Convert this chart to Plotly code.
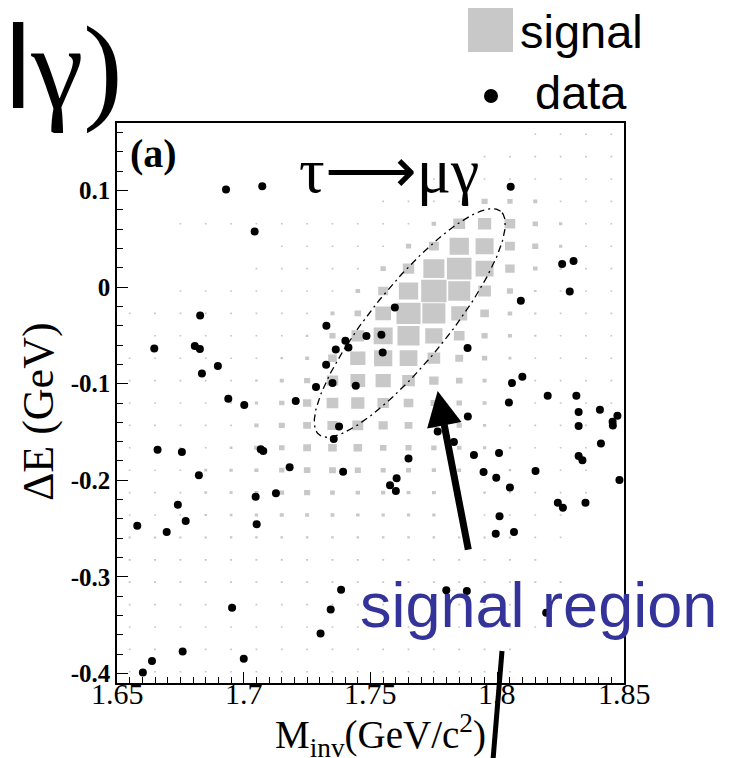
import numpy as np
import plotly.graph_objects as go

# ---- binning of the signal MC histogram (M_inv vs Delta E) ----
M_MIN, M_MAX, M_BINS = 1.65, 1.85, 20
E_MIN, E_MAX, E_BINS = -0.41, 0.17, 25

# relative box size (percent of the bin) for each cell; rows from top (highest dE) to bottom
SIGNAL_BOX = [
    [0, 0, 0, 0, 0, 0, 0, 0, 0, 0, 0, 0, 0, 0, 0, 0, 7, 7, 7, 7],
    [0, 0, 0, 0, 0, 0, 0, 0, 0, 0, 0, 0, 0, 0, 7, 7, 7, 7, 7, 7],
    [0, 0, 0, 0, 0, 0, 0, 0, 0, 0, 0, 0, 7, 7, 7, 7, 7, 7, 7, 7],
    [0, 0, 0, 0, 0, 0, 0, 0, 0, 0, 7, 7, 7, 7, 24, 21, 16, 7, 7, 7],
    [0, 0, 7, 7, 7, 7, 7, 7, 7, 7, 7, 7, 18, 47, 52, 42, 21, 13, 7, 7],
    [0, 0, 0, 0, 0, 0, 7, 7, 7, 7, 7, 21, 39, 76, 71, 39, 24, 13, 7, 7],
    [0, 0, 0, 0, 0, 7, 7, 7, 7, 7, 21, 45, 83, 97, 71, 37, 18, 10, 7, 7],
    [0, 0, 7, 7, 7, 7, 7, 7, 7, 18, 39, 76, 100, 87, 50, 24, 10, 7, 7, 7],
    [7, 7, 7, 7, 7, 7, 7, 7, 16, 26, 62, 95, 91, 63, 34, 18, 9, 7, 7, 7],
    [0, 7, 7, 7, 7, 7, 7, 10, 24, 50, 75, 87, 68, 42, 24, 16, 9, 7, 7, 7],
    [7, 7, 7, 7, 7, 7, 10, 16, 34, 60, 72, 70, 50, 31, 21, 12, 7, 7, 7, 7],
    [7, 7, 7, 7, 7, 10, 16, 24, 45, 58, 60, 50, 37, 26, 16, 10, 7, 7, 7, 7],
    [7, 7, 7, 7, 7, 13, 21, 33, 46, 52, 45, 38, 26, 22, 16, 9, 7, 7, 7, 7],
    [7, 7, 7, 7, 7, 17, 24, 31, 40, 43, 36, 31, 24, 21, 13, 9, 7, 7, 7, 0],
    [7, 7, 7, 7, 11, 18, 22, 31, 34, 34, 26, 24, 21, 18, 13, 9, 7, 7, 7, 0],
    [7, 7, 7, 12, 13, 16, 21, 26, 27, 24, 20, 20, 17, 15, 13, 10, 7, 7, 7, 0],
    [7, 7, 7, 11, 12, 15, 19, 24, 19, 17, 17, 15, 15, 13, 10, 7, 7, 7, 7, 0],
    [7, 7, 7, 10, 11, 13, 16, 16, 15, 14, 13, 13, 13, 10, 7, 7, 7, 7, 0, 0],
    [9, 9, 9, 9, 10, 10, 10, 10, 10, 10, 10, 10, 10, 9, 9, 9, 7, 7, 0, 0],
    [8, 8, 8, 8, 8, 8, 8, 8, 8, 8, 8, 8, 8, 8, 8, 8, 8, 0, 0, 0],
    [8, 8, 8, 8, 8, 8, 8, 8, 8, 8, 8, 8, 8, 8, 8, 8, 8, 8, 0, 0],
    [7, 7, 7, 7, 7, 7, 7, 7, 7, 7, 7, 7, 7, 7, 7, 7, 0, 0, 0, 0],
    [7, 7, 7, 7, 7, 7, 7, 7, 7, 7, 7, 7, 7, 7, 7, 7, 7, 0, 0, 0],
    [7, 7, 7, 7, 7, 7, 7, 7, 7, 7, 7, 7, 7, 7, 7, 7, 0, 0, 0, 0],
    [7, 7, 7, 7, 7, 7, 7, 7, 7, 7, 7, 7, 7, 7, 7, 7, 0, 0, 0, 0],
]

# observed events
DATA_MINV = [
    1.6930, 1.7073, 1.7043, 1.6828, 1.6647, 1.6807, 1.6827, 1.6898, 1.6835, 1.7326,
    1.7363, 1.7401, 1.7413, 1.7484, 1.7325, 1.7285, 1.7350, 1.7442, 1.6939, 1.7205,
    1.7596, 1.7543, 1.7548, 1.7883, 1.8093, 1.8099, 1.8058, 1.8046, 1.8053, 1.8256,
    1.8301, 1.8286, 1.8199, 1.8312, 1.8321, 1.8405, 1.8474, 1.8455, 1.8456, 1.8321,
    1.7884, 1.7765, 1.7829, 1.8409, 1.7650, 1.7908, 1.8007, 1.8321, 1.8336, 1.7946,
    1.7996, 1.8151, 1.8482, 1.7603, 1.7577, 1.7600, 1.8050, 1.8239, 1.8259, 1.8348,
    1.8009, 1.7994, 1.8066, 1.7799, 1.7880, 1.8193, 1.7002, 1.7376, 1.7355, 1.7067,
    1.7077, 1.7181, 1.7392, 1.7047, 1.7127, 1.7051, 1.6660, 1.6756, 1.6823, 1.6740,
    1.6771, 1.6580, 1.6696, 1.7384, 1.7343, 1.6954, 1.7303, 1.6759, 1.6638, 1.7000,
    1.6602,
]
DATA_DE = [
    0.1010, 0.1045, 0.0575, -0.0293, -0.0635, -0.0610, -0.0641, -0.0818, -0.0894, -0.0400,
    -0.0646, -0.0556, -0.0625, -0.0507, -0.0804, -0.1033, -0.0994, -0.1022, -0.1157, -0.1178,
    -0.0210, -0.0493, -0.0677, -0.0631, -0.0141, -0.0929, -0.0994, -0.1195, 0.1041, 0.0240,
    0.0271, -0.0044, -0.1126, -0.1126, -0.1292, -0.1271, -0.1333, -0.1395, -0.1434, -0.1437,
    -0.1340, -0.1496, -0.1603, -0.1620, -0.1776, -0.1738, -0.1717, -0.1748, -0.1793, -0.1914,
    -0.1973, -0.1904, -0.1997, -0.1979, -0.2052, -0.2111, -0.2076, -0.2232, -0.2284, -0.2232,
    -0.2373, -0.2553, -0.2536, -0.3140, -0.3148, -0.3372, -0.1222, -0.1444, -0.1574, -0.1678,
    -0.1696, -0.1865, -0.1911, -0.2170, -0.2135, -0.2456, -0.1683, -0.1707, -0.1948, -0.2253,
    -0.2422, -0.2471, -0.2536, -0.3134, -0.3338, -0.3321, -0.3587, -0.3773, -0.3871, -0.3850,
    -0.3991,
]

X_TICKS = [1.65, 1.7, 1.75, 1.8, 1.85]
X_TICK_TEXT = ["1.65", "1.7", "1.75", "1.8", "1.85"]
Y_TICKS = [-0.4, -0.3, -0.2, -0.1, 0.0, 0.1]
Y_TICK_TEXT = ["-0.4", "-0.3", "-0.2", "-0.1", "0", "0.1"]

# signal region ellipse: centre, semi-axes (fractions of the axis spans), tilt on screen
ELL_CENTER = (1.7655, -0.0371)
ELL_A, ELL_B, ELL_TILT_DEG = 0.284, 0.075, 50.9

BOX_GREY = "#c8c8c8"
SERIF = "Liberation Serif"
SANS = "Liberation Sans"

W, H = 737, 758
ML, MR, MT, MB = 117, 113, 123, 75
PW, PH = W - ML - MR, H - MT - MB


def px(xp):
    return (xp - ML) / PW


def py(yp):
    return (H - MB - yp) / PH


def label(x, y, text, font, **kw):
    d = dict(x=px(x), y=py(y), xref="paper", yref="paper", showarrow=False,
             xanchor="center", yanchor="middle", text=text, font=font)
    d.update(kw)
    return d


# ---- signal boxes as one filled polygon trace ----
dx = (M_MAX - M_MIN) / M_BINS
dy = (E_MAX - E_MIN) / E_BINS
bx, by = [], []
for r, row in enumerate(SIGNAL_BOX):
    j = E_BINS - 1 - r
    yc = E_MIN + (j + 0.5) * dy
    for i, s in enumerate(row):
        if s <= 0:
            continue
        xc = M_MIN + (i + 0.5) * dx
        hx, hy = 0.5 * dx * s / 100.0, 0.5 * dy * s / 100.0
        bx += [xc - hx, xc + hx, xc + hx, xc - hx, xc - hx, None]
        by += [yc - hy, yc - hy, yc + hy, yc + hy, yc - hy, None]

fig = go.Figure()
fig.add_trace(go.Scatter(
    x=bx, y=by, mode="lines", fill="toself", fillcolor=BOX_GREY,
    line=dict(width=0, color=BOX_GREY), hoverinfo="skip", showlegend=False,
))

# ---- ellipse of the signal region (tilted on screen) ----
t = np.linspace(0, 2 * np.pi, 241)
th = np.deg2rad(ELL_TILT_DEG)
xr, yr = M_MAX - M_MIN, E_MAX - E_MIN
u = ELL_A * np.cos(t) * np.cos(th) - ELL_B * np.sin(t) * np.sin(th)
v = ELL_A * np.cos(t) * np.sin(th) + ELL_B * np.sin(t) * np.cos(th)
ex = ELL_CENTER[0] + u * xr
ey = ELL_CENTER[1] + v * yr * PW / PH
fig.add_trace(go.Scatter(
    x=ex, y=ey, mode="lines", line=dict(color="black", width=1.3, dash="7px,4px,2px,4px"),
    hoverinfo="skip", showlegend=False,
))

# ---- data points ----
fig.add_trace(go.Scatter(
    x=DATA_MINV, y=DATA_DE, mode="markers",
    marker=dict(color="black", size=8, line=dict(width=0)), showlegend=False,
))

fig.update_xaxes(
    range=[M_MIN, M_MAX], tickvals=X_TICKS, showticklabels=False,
    ticks="inside", ticklen=11, tickwidth=1.3, tickcolor="black",
    minor=dict(dtick=0.005, tick0=1.65, ticks="inside", ticklen=6, tickcolor="black", tickwidth=1),
    showline=True, mirror=True, linecolor="black", linewidth=1.5,
    showgrid=False, zeroline=False,
)
fig.update_yaxes(
    range=[E_MIN, E_MAX], tickvals=Y_TICKS, ticktext=Y_TICK_TEXT,
    ticks="inside", ticklen=11, tickwidth=1.3, tickcolor="black",
    minor=dict(dtick=0.02, tick0=0, ticks="inside", ticklen=6, tickcolor="black", tickwidth=1),
    showline=True, mirror=True, linecolor="black", linewidth=1.5,
    showgrid=False, zeroline=False,
    tickfont=dict(family=SERIF, size=25, color="black", weight="bold"),
)

ann = []
# x tick labels placed on the data axis
for v_, s_ in zip(X_TICKS, X_TICK_TEXT):
    ann.append(dict(x=v_, y=py(693), xref="x", yref="paper", showarrow=False,
                    xanchor="center", yanchor="middle", text=s_,
                    font=dict(family=SERIF, size=30, color="black")))
# axis titles
ann.append(label(380, 736, "M<sub>inv</sub>(GeV/c<sup>2</sup>)",
                 dict(family=SERIF, size=39, color="black")))
ann.append(label(39, 412, "\u0394E (GeV)", dict(family=SERIF, size=44, color="black"),
                 textangle=-90))
# panel labels
ann.append(label(153, 153, "(a)", dict(family=SERIF, size=40, color="black", weight="bold")))
ann.append(label(389, 170, "\u03c4\u27f6\u03bc\u03b3", dict(family=SERIF, size=64, color="black")))
# arrow to the signal region
ann.append(dict(x=1.7765, y=-0.1075, ax=1.7887, ay=-0.2735, xref="x", yref="y",
                axref="x", ayref="y", showarrow=True, arrowhead=2, arrowsize=1.0,
                arrowwidth=7, arrowcolor="black", text=""))
ann.append(label(538, 605, "signal region", dict(family=SANS, size=63, color="#333399")))
# legend
ann.append(label(518, 32, "signal", dict(family=SANS, size=47, color="black"), xanchor="left"))
ann.append(label(533, 93, "data", dict(family=SANS, size=47, color="black"), xanchor="left"))
# heading fragment
ann.append(label(64, 68, "<span style='font-family:Liberation Sans'>l</span>\u03b3)",
                 dict(family=SERIF, size=118, color="black")))

shapes = [
    dict(type="rect", xref="paper", yref="paper", x0=px(468), x1=px(513), y0=py(52), y1=py(8),
         fillcolor=BOX_GREY, line=dict(width=0)),
    dict(type="circle", xref="paper", yref="paper", x0=px(484), x1=px(498), y0=py(103), y1=py(89),
         fillcolor="black", line=dict(width=0)),
    dict(type="line", xref="paper", yref="paper", x0=px(502), y0=py(651), x1=px(493), y1=py(760),
         line=dict(color="black", width=5)),
]

fig.update_layout(
    width=W, height=H, margin=dict(l=ML, r=MR, t=MT, b=MB),
    paper_bgcolor="white", plot_bgcolor="white",
    showlegend=False, annotations=ann, shapes=shapes,
)

fig.write_html("out.html")
